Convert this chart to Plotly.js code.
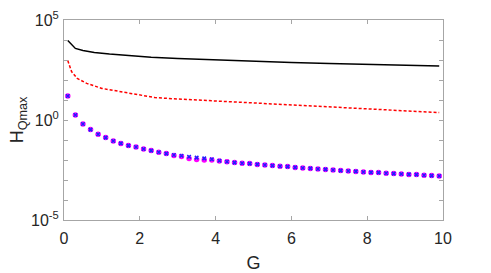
<!DOCTYPE html>
<html>
<head>
<meta charset="utf-8">
<script src="https://cdn.plot.ly/plotly-3.0.1.min.js"></script>
<style>
  html, body { margin: 0; padding: 0; background: #fff; }
  #chart { width: 491px; height: 273px; }
</style>
</head>
<body>
<div id="chart"></div>
<script>
/* ── data (y values as log10 exponents) ── */
const G_DOTS = [0.1, 0.3, 0.5, 0.7, 0.9, 1.1, 1.3, 1.5, 1.7, 1.9,
                2.1, 2.3, 2.5, 2.7, 2.9, 3.1, 3.3, 3.5, 3.7, 3.9,
                4.1, 4.3, 4.5, 4.7, 4.9, 5.1, 5.3, 5.5, 5.7, 5.9,
                6.1, 6.3, 6.5, 6.7, 6.9, 7.1, 7.3, 7.5, 7.7, 7.9,
                8.1, 8.3, 8.5, 8.7, 8.9, 9.1, 9.3, 9.5, 9.7, 9.9];

const BLUE_LOG = [1.2, 0.25, -0.2, -0.48, -0.71, -0.88, -1.05, -1.17, -1.28, -1.35,
                  -1.45, -1.53, -1.61, -1.68, -1.75, -1.79, -1.84, -1.88, -1.92, -1.96,
                  -2.04, -2.09, -2.13, -2.16, -2.18, -2.22, -2.25, -2.28, -2.31, -2.33,
                  -2.37, -2.40, -2.42, -2.45, -2.47, -2.50, -2.53, -2.55, -2.57, -2.60,
                  -2.62, -2.63, -2.66, -2.68, -2.70, -2.72, -2.73, -2.76, -2.78, -2.80];

const MAGENTA_LOG = [1.2, 0.25, -0.2, -0.48, -0.71, -0.88, -1.05, -1.17, -1.28, -1.35,
                     -1.45, -1.53, -1.61, -1.68, -1.77, -1.83, -1.92, -1.97, -2.00, -2.00,
                     -2.05, -2.09, -2.13, -2.16, -2.18, -2.22, -2.25, -2.28, -2.31, -2.33,
                     -2.37, -2.40, -2.42, -2.45, -2.47, -2.50, -2.53, -2.55, -2.57, -2.60,
                     -2.62, -2.63, -2.66, -2.68, -2.70, -2.72, -2.73, -2.76, -2.78, -2.80];

const G_BLACK   = [0.1, 0.3, 0.5, 0.8, 1.2, 1.7, 2.3, 3, 4, 5, 6, 7, 8, 9, 9.9];
const BLACK_LOG = [3.97, 3.58, 3.48, 3.38, 3.30, 3.22, 3.14, 3.07, 3.00, 2.95, 2.88, 2.83, 2.78, 2.74, 2.70];

const G_RED   = [0.1, 0.2, 0.35, 0.6, 1.0, 1.5, 2.0, 2.4, 3, 4, 5, 6, 7, 8, 9, 9.9];
const RED_LOG = [2.97, 2.42, 2.08, 1.83, 1.58, 1.42, 1.27, 1.12, 1.05, 0.95, 0.88, 0.76, 0.65, 0.55, 0.45, 0.37];

const Y_TICKS  = [1e-5, 1e-4, 1e-3, 1e-2, 1e-1, 1, 1e1, 1e2, 1e3, 1e4, 1e5];
const Y_LABELS = ['10<sup>-5</sup>', '', '', '', '', '10<sup>0</sup>', '', '', '', '', '10<sup>5</sup>'];
const X_TICKS  = [0, 2, 4, 6, 8, 10];

const pow10 = a => a.map(v => Math.pow(10, v));

const AX = '#a6a6a6';
const FONT = { family: 'Liberation Sans, Arial, sans-serif', size: 16, color: '#262626' };

Plotly.newPlot('chart', [
  {
    x: G_BLACK, y: pow10(BLACK_LOG), mode: 'lines',
    line: { color: '#000000', width: 1.5 }
  },
  {
    x: G_RED, y: pow10(RED_LOG), mode: 'lines',
    line: { color: '#ff0000', width: 1.5, dash: '3px,2px' }
  },
  {
    x: G_DOTS, y: pow10(MAGENTA_LOG), mode: 'markers',
    marker: { color: '#ff00ff', size: 5.5, symbol: 'circle' }
  },
  {
    x: G_DOTS, y: pow10(BLUE_LOG), mode: 'markers',
    marker: { color: '#2020ff', size: 3.5, symbol: 'x-thin', line: { color: '#2020ff', width: 1.5 } }
  }
], {
  width: 491, height: 273,
  paper_bgcolor: '#ffffff', plot_bgcolor: '#ffffff',
  showlegend: false,
  font: FONT,
  margin: { l: 64, r: 48, t: 20, b: 53 },
  xaxis: {
    range: [0, 10], tickvals: X_TICKS,
    showgrid: false, zeroline: false,
    showline: true, linecolor: AX, linewidth: 1, mirror: 'ticks',
    ticks: 'inside', ticklen: 4, tickcolor: AX,
    ticklabelstandoff: 4,
    tickfont: { size: 16 },
    title: { text: 'G', font: { size: 18 }, standoff: 10 }
  },
  yaxis: {
    type: 'log', range: [-5, 5],
    tickvals: Y_TICKS, ticktext: Y_LABELS,
    showgrid: false, zeroline: false,
    showline: true, linecolor: AX, linewidth: 1, mirror: 'ticks',
    ticks: 'inside', ticklen: 4, tickcolor: AX,
    ticklabelstandoff: 1,
    tickfont: { size: 16 },
    title: { text: 'H<sub>Qmax</sub>', font: { size: 18 }, standoff: 2 }
  }
}, { displayModeBar: false, staticPlot: true });
</script>
</body>
</html>
